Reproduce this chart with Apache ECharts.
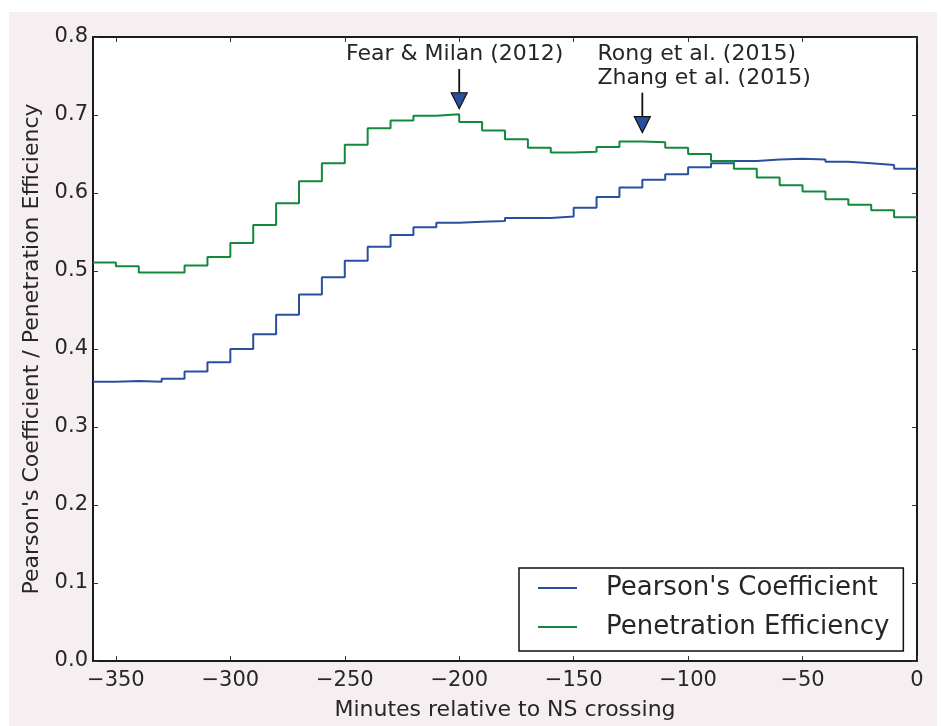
<!DOCTYPE html>
<html>
<head>
<meta charset="utf-8">
<script src="https://cdn.jsdelivr.net/npm/echarts@6/dist/echarts.min.js"></script>
<style>
  html, body { margin: 0; padding: 0; background: #ffffff; }
  #chart { width: 941px; height: 726px; }
</style>
</head>
<body>
<div id="chart"></div>
<script>
// Left edges of 10-minute bins (minutes relative to NS crossing)
var binStarts = [-360, -350, -340, -330, -320, -310, -300, -290, -280, -270, -260, -250,
                 -240, -230, -220, -210, -200, -190, -180, -170, -160, -150, -140, -130,
                 -120, -110, -100, -90, -80, -70, -60, -50, -40, -30, -20, -10];
var binEnd = 0;

var pearson = [0.358, 0.359, 0.358, 0.362, 0.371, 0.383, 0.400, 0.419, 0.444, 0.470, 0.492, 0.513,
               0.531, 0.546, 0.556, 0.562, 0.563, 0.564, 0.568, 0.568, 0.570, 0.581, 0.595, 0.607,
               0.617, 0.624, 0.633, 0.638, 0.641, 0.643, 0.644, 0.643, 0.640, 0.638, 0.636, 0.631];

var penetration = [0.511, 0.506, 0.498, 0.498, 0.507, 0.518, 0.536, 0.559, 0.587, 0.615, 0.638, 0.662,
                   0.683, 0.693, 0.699, 0.701, 0.691, 0.680, 0.669, 0.658, 0.652, 0.653, 0.659, 0.666,
                   0.665, 0.658, 0.650, 0.641, 0.631, 0.620, 0.610, 0.602, 0.592, 0.585, 0.578, 0.569];

var seriesNames = ["Pearson's Coefficient", "Penetration Efficiency"];

var xTicks = [-350, -300, -250, -200, -150, -100, -50, 0];
var yTicks = [0.0, 0.1, 0.2, 0.3, 0.4, 0.5, 0.6, 0.7, 0.8];

// Annotations: text, text anchor (data coords), arrow tail and tip (data coords)
var annoText  = ['Fear & Milan (2012)', 'Rong et al. (2015)\nZhang et al. (2015)'];
var annoTextX = [-202, -139.6];
var annoTextY = [0.778, 0.763];
var annoAlign = ['center', 'left'];
var annoArrowX = [-200, -120];
var annoTailY = [0.759, 0.7286];
var annoTipY  = [0.708, 0.6775];

function stepData(vals) {
  var d = binStarts.map(function (x, i) { return [x, vals[i]]; });
  d.push([binEnd, vals[vals.length - 1]]);
  return d;
}

var FONT = 'DejaVu Sans';
var TXT = '#262626';
var BLUE = '#2b4f9f';
var GREEN = '#12893c';

var chart = echarts.init(document.getElementById('chart'), null, { renderer: 'canvas' });

function axisLine() { return { show: true, onZero: false, lineStyle: { color: '#1a1a1a', width: 2 } }; }
function tick(vals) { return { show: true, inside: true, length: 5, customValues: vals, lineStyle: { color: '#333', width: 1 } }; }

var option = {
  animation: false,
  backgroundColor: '#f5eff1',
  textStyle: { fontFamily: FONT },
  grid: { left: 93, right: 24, top: 37, bottom: 63, show: true, backgroundColor: '#ffffff', borderWidth: 0 },
  legend: {
    orient: 'vertical',
    left: 519, top: 568,
    padding: [6, 14, 10, 19],
    itemGap: 11,
    itemWidth: 39, itemHeight: 2,
    icon: 'rect',
    backgroundColor: '#ffffff',
    borderColor: '#111', borderWidth: 1.5, borderRadius: 0,
    textStyle: { fontFamily: FONT, fontSize: 26, color: TXT, lineHeight: 28, padding: [0, 0, 0, 24] },
    data: seriesNames
  },
  xAxis: [
    {
      type: 'value', min: -360, max: 0, position: 'bottom',
      axisLine: axisLine(),
      axisTick: tick(xTicks),
      axisLabel: {
        customValues: xTicks, margin: 9, fontFamily: FONT, fontSize: 21, color: TXT,
        formatter: function (v) { return String(v).replace('-', '\u2212'); }
      },
      splitLine: { show: false },
      name: 'Minutes relative to NS crossing', nameLocation: 'middle', nameGap: 38,
      nameTextStyle: { fontFamily: FONT, fontSize: 22, color: TXT }
    },
    {
      type: 'value', min: -360, max: 0, position: 'top',
      axisLine: axisLine(),
      axisTick: tick(xTicks),
      axisLabel: { show: false },
      splitLine: { show: false }
    }
  ],
  yAxis: [
    {
      type: 'value', min: 0, max: 0.8, position: 'left',
      axisLine: axisLine(),
      axisTick: tick(yTicks),
      axisLabel: {
        customValues: yTicks, margin: 5, fontFamily: FONT, fontSize: 21, color: TXT,
        formatter: function (v) { return v.toFixed(1); }
      },
      splitLine: { show: false },
      name: "Pearson's Coefficient / Penetration Efficiency", nameLocation: 'middle', nameGap: 46,
      nameTextStyle: { fontFamily: FONT, fontSize: 22, color: TXT }
    },
    {
      type: 'value', min: 0, max: 0.8, position: 'right',
      axisLine: axisLine(),
      axisTick: tick(yTicks),
      axisLabel: { show: false },
      splitLine: { show: false }
    }
  ],
  series: [
    {
      name: seriesNames[0], type: 'line', step: 'end', data: stepData(pearson),
      symbol: 'none', lineStyle: { color: BLUE, width: 2 }, itemStyle: { color: BLUE }, z: 3
    },
    {
      name: seriesNames[1], type: 'line', step: 'end', data: stepData(penetration),
      symbol: 'none', lineStyle: { color: GREEN, width: 2 }, itemStyle: { color: GREEN }, z: 3
    }
  ]
};

chart.setOption(option);

function buildGraphics() {
  var els = [
    { type: 'rect', shape: { x: 0, y: 0, width: 941, height: 12 }, style: { fill: '#ffffff' }, silent: true },
    { type: 'rect', shape: { x: 0, y: 0, width: 9, height: 726 }, style: { fill: '#ffffff' }, silent: true },
    { type: 'rect', shape: { x: 937, y: 0, width: 4, height: 726 }, style: { fill: '#ffffff' }, silent: true }
  ];
  for (var i = 0; i < annoText.length; i++) {
    var tp = chart.convertToPixel({ gridIndex: 0 }, [annoTextX[i], annoTextY[i]]);
    var tail = chart.convertToPixel({ gridIndex: 0 }, [annoArrowX[i], annoTailY[i]]);
    var tip = chart.convertToPixel({ gridIndex: 0 }, [annoArrowX[i], annoTipY[i]]);
    var headLen = 16, headHalf = 8;
    els.push({
      type: 'text', x: tp[0], y: tp[1], z: 10,
      style: {
        text: annoText[i], fontFamily: FONT, fontSize: 22, fill: TXT,
        align: annoAlign[i], verticalAlign: 'middle', lineHeight: 24
      }
    });
    els.push({
      type: 'line', z: 10,
      shape: { x1: tail[0], y1: tail[1], x2: tip[0], y2: tip[1] - headLen },
      style: { stroke: '#111', lineWidth: 1.8 }
    });
    els.push({
      type: 'polygon', z: 10,
      shape: { points: [[tip[0] - headHalf, tip[1] - headLen], [tip[0] + headHalf, tip[1] - headLen], [tip[0], tip[1]]] },
      style: { fill: BLUE, stroke: '#111', lineWidth: 1.2 }
    });
  }
  chart.setOption({ graphic: { elements: els } });
}
buildGraphics();
</script>
</body>
</html>
